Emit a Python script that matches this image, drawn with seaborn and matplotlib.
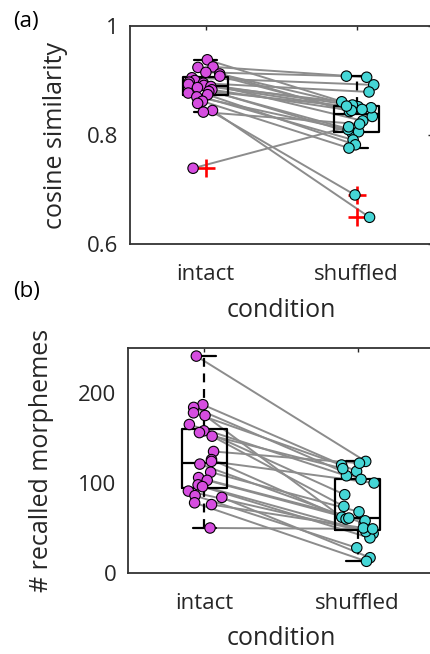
import numpy as np
import pandas as pd
import matplotlib
matplotlib.use("Agg")
import matplotlib.pyplot as plt
import seaborn as sns

# ─── DATA ──────────────────────────────────────────────────────────────────────
CONDITIONS = ["intact", "shuffled"]

# (a) cosine similarity, one value per subject (paired by index)
cos_intact = [0.938, 0.925, 0.924, 0.915, 0.912, 0.908, 0.905, 0.900, 0.897, 0.895,
              0.893, 0.891, 0.889, 0.887, 0.883, 0.880, 0.877, 0.874, 0.870, 0.862,
              0.858, 0.845, 0.842, 0.739]
cos_shuffled = [0.852, 0.906, 0.843, 0.908, 0.855, 0.834, 0.892, 0.826, 0.850, 0.879,
                0.804, 0.861, 0.847, 0.806, 0.845, 0.853, 0.791, 0.782, 0.810, 0.776,
                0.690, 0.649, 0.820, 0.815]

# (b) number of recalled morphemes
morph_intact = [241, 187, 184, 178, 175, 165, 158, 156, 152, 135, 126, 124,
                121, 112, 106, 103, 98, 96, 91, 86, 84, 78, 76, 50]
morph_shuffled = [124, 113, 104, 120, 62, 108, 87, 116, 74, 122, 60, 100,
                  55, 68, 58, 61, 44, 39, 46, 28, 17, 13, 50, 49]

COS_TICKS = [0.6, 0.8, 1.0]
COS_TICKLABELS = ["0.6", "0.8", "1"]
MORPH_TICKS = [0, 100, 200]
MORPH_TICKLABELS = ["0", "100", "200"]

# ─── STYLE ─────────────────────────────────────────────────────────────────────
MAGENTA = "#d64de0"
CYAN = "#45d6d6"
TEXT_COLOR = "#262626"
LINE_GRAY = "#8c8c8c"

sns.set_style("white")
plt.rcParams["font.family"] = ["Open Sans", "DejaVu Sans"]
np.random.seed(3)  # stripplot jitter


def make_df(a, b):
    n = len(a)
    return pd.DataFrame({
        "subject": list(range(n)) * 2,
        "condition": ["intact"] * n + ["shuffled"] * n,
        "value": list(a) + list(b),
    })


def draw_panel(ax, df, ylim, ticks, ticklabels, ylabel):
    ax.set_xlim(-0.5, 1.5)
    ax.set_ylim(*ylim)
    sns.boxplot(data=df, x="condition", y="value", order=CONDITIONS,
                width=0.3, fill=False, color="black", linecolor="black",
                linewidth=1.6, whis=1.5,
                whiskerprops=dict(linestyle=(0, (4, 3))),
                flierprops=dict(marker="+", markeredgecolor="red",
                                markersize=12.5, markeredgewidth=1.9),
                ax=ax, zorder=2)
    sns.stripplot(data=df, x="condition", y="value", order=CONDITIONS,
                  hue="condition", palette={"intact": MAGENTA, "shuffled": CYAN},
                  jitter=0.12, size=7.5, edgecolor="black", linewidth=0.8,
                  legend=False, ax=ax, zorder=3)
    ax.set_xlim(-0.5, 1.5)
    ax.set_ylim(*ylim)
    ax.set_xticks([0, 1])
    ax.set_xticklabels(CONDITIONS)
    ax.set_yticks(ticks)
    ax.set_yticklabels(ticklabels)
    ax.tick_params(direction="in", length=3, width=1, top=True, right=True,
                   colors=TEXT_COLOR, labelsize=16)
    ax.tick_params(axis="x", pad=14.5)
    ax.tick_params(axis="y", pad=8.5)
    for s in ax.spines.values():
        s.set_visible(True)
        s.set_color("#333333")
        s.set_linewidth(1.3)
    ax.set_xlabel("condition", fontsize=18, color=TEXT_COLOR)
    ax.set_ylabel(ylabel, fontsize=18, color=TEXT_COLOR)


def connect_pairs(ax):
    # jittered positions come from seaborn's stripplot collections
    cols = sorted(ax.collections, key=lambda c: c.get_offsets()[:, 0].mean())
    p0 = cols[0].get_offsets()
    p1 = cols[1].get_offsets()
    for (x0, y0), (x1, y1) in zip(p0, p1):
        ax.plot([x0, x1], [y0, y1], color=LINE_GRAY, lw=1.4, zorder=1)


fig = plt.figure(figsize=(4.31, 6.54), dpi=100)
ax_a = fig.add_axes([130 / 431, 1 - 244 / 654, 302 / 431, 218 / 654])
ax_b = fig.add_axes([128 / 431, 1 - 573 / 654, 306 / 431, 225 / 654])

draw_panel(ax_a, make_df(cos_intact, cos_shuffled), (0.6, 1.0),
           COS_TICKS, COS_TICKLABELS, "cosine similarity")
draw_panel(ax_b, make_df(morph_intact, morph_shuffled), (0, 250),
           MORPH_TICKS, MORPH_TICKLABELS, "# recalled morphemes")

ax_a.yaxis.set_label_coords((68 - 130) / 302, 0.5)
ax_b.yaxis.set_label_coords((54 - 128) / 306, 0.5)
ax_a.xaxis.set_label_coords(0.5, (244 - 298) / 218)
ax_b.xaxis.set_label_coords(0.5, (573 - 626) / 225)

fig.text(13 / 431, 1 - 11 / 654, "(a)", fontsize=16, va="top", ha="left", color="black")
fig.text(13 / 431, 1 - 281 / 654, "(b)", fontsize=16, va="top", ha="left", color="black")

connect_pairs(ax_a)
connect_pairs(ax_b)

fig.savefig("out.png", dpi=100)
